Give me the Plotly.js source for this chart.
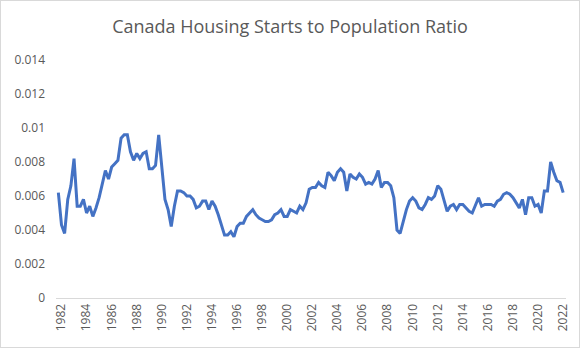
<!DOCTYPE html>
<html>
<head>
<meta charset="utf-8">
<script src="https://cdn.plot.ly/plotly-3.0.1.min.js"></script>
<style>
  html, body { margin: 0; padding: 0; background: #fff; }
  #frame { width: 580px; height: 348px; box-sizing: border-box; border: 1px solid #d9d9d9; overflow: hidden; }
  #chart { width: 578px; height: 346px; }
</style>
</head>
<body>
<div id="frame"><div id="chart"></div></div>
<script>
// Quarterly categories, 1981 Q4 .. 2022 Q1
const firstYear = 1981, firstQuarter = 4, nQuarters = 162;
const quarters = [];
for (let k = 0; k < nQuarters; k++) {
  const q = (firstQuarter - 1 + k);
  quarters.push((firstYear + Math.floor(q / 4)) + " Q" + (q % 4 + 1));
}

// Housing starts / population ratio
const ratio1980s = [0.0062, 0.0043, 0.0038, 0.0058, 0.0066, 0.0082, 0.0054, 0.0054, 0.0058, 0.0050,
  0.0054, 0.0048, 0.0053, 0.0059, 0.0067, 0.0075, 0.0070, 0.0077, 0.0079, 0.0081,
  0.0094, 0.0096, 0.0096, 0.0086, 0.0081, 0.0085, 0.0082, 0.0085, 0.0086, 0.0076,
  0.0076, 0.0078];
const ratio1990s = [0.0096, 0.0075, 0.0058, 0.0052, 0.0042, 0.0054, 0.0063, 0.0063, 0.0062, 0.0060,
  0.0060, 0.0058, 0.0053, 0.0054, 0.0057, 0.0057, 0.0052, 0.0057, 0.0054, 0.0049,
  0.0043, 0.0037, 0.0037, 0.0039, 0.0036, 0.0042, 0.0044, 0.0044, 0.0048, 0.0050,
  0.0052, 0.0049, 0.0047, 0.0046, 0.0045, 0.0045, 0.0046, 0.0049, 0.0050, 0.0052];
const ratio2000s = [0.0048, 0.0048, 0.0052, 0.0051, 0.0050, 0.0054, 0.0052, 0.0056, 0.0064, 0.0065,
  0.0065, 0.0068, 0.0066, 0.0065, 0.0074, 0.0072, 0.0069, 0.0074, 0.0076, 0.0074,
  0.0063, 0.0073, 0.0071, 0.0070, 0.0073, 0.0071, 0.0067, 0.0068, 0.0067, 0.0070,
  0.0075, 0.0065, 0.0068, 0.0068, 0.0066, 0.0059, 0.0040, 0.0038, 0.0045, 0.0052];
const ratio2010s = [0.0057, 0.0059, 0.0057, 0.0053, 0.0052, 0.0055, 0.0059, 0.0058, 0.0060, 0.0066,
  0.0064, 0.0058, 0.0051, 0.0054, 0.0055, 0.0052, 0.0055, 0.0055, 0.0053, 0.0051,
  0.0050, 0.0054, 0.0059, 0.0054, 0.0055, 0.0055, 0.0055, 0.0054, 0.0057, 0.0058,
  0.0061, 0.0062, 0.0061, 0.0059, 0.0056, 0.0053, 0.0058, 0.0049, 0.0059, 0.0059];
const ratio2020s = [0.0054, 0.0055, 0.0050, 0.0063, 0.0063, 0.0080, 0.0074, 0.0069, 0.0068, 0.0062];
const ratio = [].concat(ratio1980s, ratio1990s, ratio2000s, ratio2010s, ratio2020s);

const tickYears = ["1982","1984","1986","1988","1990","1992","1994","1996","1998","2000",
  "2002","2004","2006","2008","2010","2012","2014","2016","2018","2020","2022"];
const tickCats = tickYears.map(y => y + " Q1");

const textColor = "#595959";
const font = "Open Sans, Liberation Sans, sans-serif";

Plotly.newPlot("chart", [{
  x: quarters,
  y: ratio,
  type: "scatter",
  mode: "lines",
  line: { color: "#4472C4", width: 3 },
  hoverinfo: "x+y"
}], {
  width: 578, height: 346,
  margin: { l: 55, r: 13, t: 59, b: 49 },
  paper_bgcolor: "#ffffff",
  plot_bgcolor: "#ffffff",
  showlegend: false,
  title: {
    text: "Canada Housing Starts to Population Ratio",
    font: { family: font, size: 18, color: textColor },
    x: 0.5, xanchor: "center", y: 0.925, yanchor: "middle"
  },
  xaxis: {
    type: "category",
    categoryorder: "array",
    categoryarray: quarters,
    range: [-0.75, 161.9],
    tickmode: "array",
    tickvals: tickCats,
    ticktext: tickYears,
    tickangle: -90,
    ticks: "",
    showgrid: false,
    zeroline: false,
    showline: true,
    linecolor: "#d9d9d9",
    linewidth: 1,
    tickfont: { family: font, size: 12, color: textColor },
    fixedrange: true
  },
  yaxis: {
    range: [0, 0.014],
    tickmode: "array",
    tickvals: [0, 0.002, 0.004, 0.006, 0.008, 0.01, 0.012, 0.014],
    ticktext: ["0", "0.002", "0.004", "0.006", "0.008", "0.01", "0.012", "0.014"],
    showgrid: false,
    zeroline: false,
    showline: false,
    ticks: "",
    ticklabelstandoff: 10,
    tickfont: { family: font, size: 12, color: textColor },
    fixedrange: true
  }
}, { displayModeBar: false, staticPlot: true });
</script>
</body>
</html>
